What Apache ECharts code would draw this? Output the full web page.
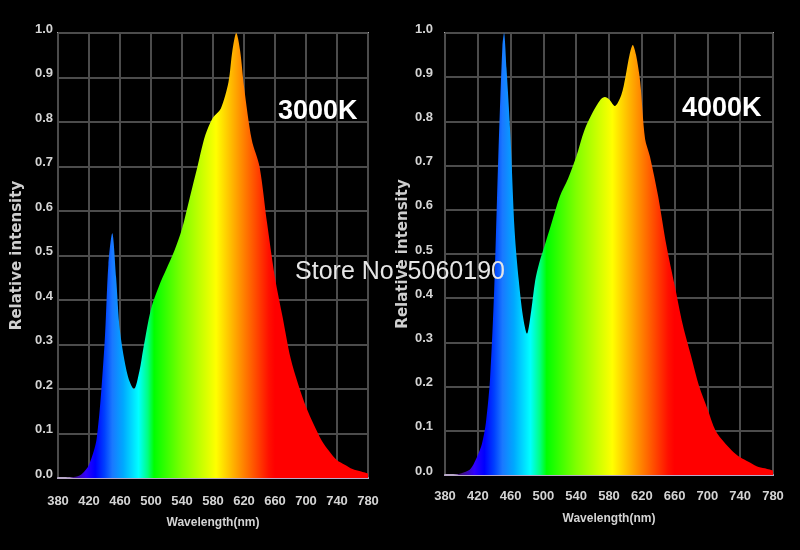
<!DOCTYPE html>
<html>
<head>
<meta charset="utf-8">
<script src="https://cdn.jsdelivr.net/npm/echarts@6/dist/echarts.min.js"></script>
<style>
html,body{margin:0;padding:0;background:#000;}
#chart{width:800px;height:550px;}
</style>
</head>
<body>
<div id="chart"></div>
<script>
// ---- Data ----
var titles = ['3000K', '4000K'];
var watermark = 'Store No: 5060190';
var xAxisName = 'Wavelength(nm)';
var yAxisName = 'Relative intensity';

var wl3000 = [380,390,400,410,420,430,440,445,450,455,460,470,478,485,490,500,510,520,530,540,550,560,570,580,590,600,605,610,615,620,630,640,650,660,670,680,690,700,710,720,730,740,750,760,770,780];
var val3000 = [0,0,0.002,0.008,0.03,0.09,0.30,0.48,0.55,0.45,0.33,0.23,0.20,0.24,0.29,0.38,0.43,0.47,0.51,0.56,0.63,0.70,0.77,0.81,0.83,0.89,0.96,1.0,0.96,0.88,0.76,0.70,0.57,0.45,0.36,0.27,0.21,0.16,0.12,0.085,0.06,0.04,0.03,0.02,0.015,0.01];

var wl4000 = [380,390,400,410,415,420,425,430,435,440,445,450,452,455,460,465,470,475,480,485,490,495,500,510,520,530,540,550,560,570,575,580,587,595,600,605,609,613,618,624,630,640,650,660,670,680,690,700,710,720,730,740,750,760,770,780];
var val4000 = [0,0,0.004,0.012,0.025,0.045,0.07,0.12,0.22,0.42,0.72,0.97,1.0,0.92,0.76,0.55,0.44,0.36,0.32,0.37,0.44,0.48,0.51,0.57,0.63,0.67,0.72,0.78,0.82,0.85,0.855,0.85,0.835,0.86,0.90,0.95,0.973,0.95,0.89,0.76,0.72,0.63,0.52,0.43,0.34,0.27,0.20,0.15,0.10,0.075,0.055,0.04,0.03,0.02,0.015,0.01];

function pairs(xs, ys){ return xs.map(function(x,i){ return [x, ys[i]]; }); }

function spectrum(){
  return new echarts.graphic.LinearGradient(0,0,1,0,[
    {offset:0.00,color:'#301048'},
    {offset:0.05,color:'#401080'},
    {offset:0.09,color:'#3000ff'},
    {offset:0.12,color:'#0000ff'},
    {offset:0.15,color:'#0040ff'},
    {offset:0.175,color:'#1a78ff'},
    {offset:0.21,color:'#00a8ff'},
    {offset:0.26,color:'#00ffff'},
    {offset:0.29,color:'#00ff80'},
    {offset:0.31,color:'#00ff00'},
    {offset:0.40,color:'#80ff00'},
    {offset:0.51,color:'#ffff00'},
    {offset:0.60,color:'#ff8000'},
    {offset:0.68,color:'#ff1000'},
    {offset:0.70,color:'#ff0000'},
    {offset:1.00,color:'#ff0000'}
  ]);
}

var chart = echarts.init(document.getElementById('chart'));

var labelStyle = {color:'#d4d4d4', fontSize:13, fontWeight:'bold', fontFamily:'Liberation Sans, Arial, sans-serif'};
var grids = [
  {left:58, right:432, top:33, bottom:72, show:true, borderColor:'#a8a8a8', borderWidth:2, backgroundColor:'#000'},
  {left:445, right:27, top:33, bottom:75, show:true, borderColor:'#a8a8a8', borderWidth:2, backgroundColor:'#000'}
];

function xAxis(idx, margin, gap){
  return {
    type:'value', gridIndex:idx, min:380, max:780, interval:40,
    name:xAxisName, nameLocation:'middle', nameGap:gap,
    nameTextStyle:{color:'#d4d4d4', fontSize:12, fontWeight:'bold', fontFamily:'Liberation Sans, Arial, sans-serif'},
    axisLine:{show:true, lineStyle:{color:'#b8a8c8', width:2}},
    axisTick:{show:false},
    axisLabel:Object.assign({margin:margin}, labelStyle),
    splitLine:{show:true, lineStyle:{color:'#4c4c4c', width:2}}
  };
}
function yAxis(idx, margin, gap){
  return {
    type:'value', gridIndex:idx, min:0, max:1, interval:0.1,
    name:yAxisName, nameLocation:'middle', nameGap:gap, nameRotate:90,
    nameTextStyle:{color:'#cfcfcf', fontSize:15, fontWeight:'bold', fontFamily:'DejaVu Sans, sans-serif'},
    axisLine:{show:false},
    axisTick:{show:false},
    axisLabel:Object.assign({margin:margin, verticalAlign:'bottom', lineHeight:8, formatter:function(v){return v.toFixed(1);}}, labelStyle),
    splitLine:{show:true, lineStyle:{color:'#4c4c4c', width:2}}
  };
}

function series(idx, xs, ys){
  return {
    type:'line', xAxisIndex:idx, yAxisIndex:idx,
    data:pairs(xs, ys),
    smooth:0.3,
    showSymbol:false, symbol:'none',
    lineStyle:{width:0},
    areaStyle:{color:spectrum(), opacity:1},
    z:3
  };
}

chart.setOption({
  backgroundColor:'#000',
  animation:false,
  grid:grids,
  xAxis:[xAxis(0, 17, 39), xAxis(1, 15, 38)],
  yAxis:[yAxis(0, 5, 33), yAxis(1, 12, 22)],
  title:[
    {text:titles[0], left:273, top:93, textStyle:{color:'#ffffff', fontSize:27, fontWeight:'bold', fontFamily:'Liberation Sans, Arial, sans-serif'}},
    {text:titles[1], left:677, top:90, textStyle:{color:'#ffffff', fontSize:27, fontWeight:'bold', fontFamily:'Liberation Sans, Arial, sans-serif'}}
  ],
  graphic:[{
    type:'text', left:'center', top:260, z:100,
    style:{text:watermark, fill:'#e6e6e6', fontSize:25, fontFamily:'Liberation Sans, Arial, sans-serif'}
  }],
  series:[series(0, wl3000, val3000), series(1, wl4000, val4000)]
});
</script>
</body>
</html>
